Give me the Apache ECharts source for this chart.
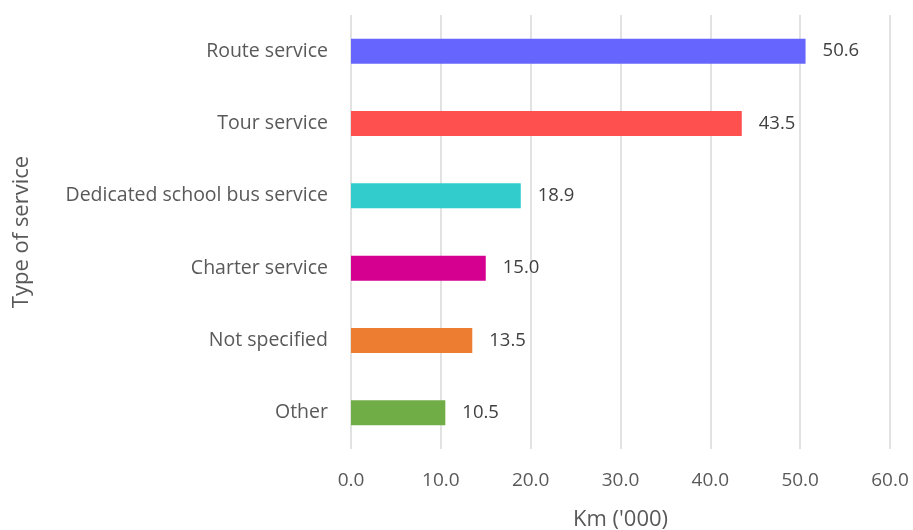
<!DOCTYPE html>
<html>
<head>
<meta charset="utf-8">
<script src="https://cdn.jsdelivr.net/npm/echarts@6/dist/echarts.min.js"></script>
<style>
  html, body { margin: 0; padding: 0; background: #fff; }
  #chart { width: 913px; height: 530px; }
</style>
</head>
<body>
<div id="chart"></div>
<script>
// categories bottom to top (category axis on y starts at bottom)
var categories = ['Other', 'Not specified', 'Charter service', 'Dedicated school bus service', 'Tour service', 'Route service'];
var values = [10.5, 13.5, 15.0, 18.9, 43.5, 50.6];
var barColors = ['#70AD47', '#ED7D31', '#D5008F', '#33CCCC', '#FF5050', '#6666FF'];

var textColor = '#595959';
var font = '"Open Sans", "Liberation Sans", sans-serif';

echarts.init(document.getElementById('chart')).setOption({
    animation: false,
    grid: {
        left: 351,
        right: 23,
        top: 15,
        bottom: 81,
        outerBoundsMode: 'none',
        containLabel: false
    },
    xAxis: {
        type: 'value',
        min: 0,
        max: 60,
        interval: 10,
        name: "Km ('000)",
        nameLocation: 'middle',
        nameGap: 60,
        nameTextStyle: { color: textColor, fontSize: 22, fontFamily: font },
        axisLine: { show: false },
        axisTick: { show: false },
        axisLabel: {
            color: textColor,
            fontSize: 19,
            fontFamily: font,
            margin: 22,
            formatter: function (v) { return v.toFixed(1); }
        },
        splitLine: { show: true, lineStyle: { color: '#D9D9D9', width: 1.5 } }
    },
    yAxis: {
        type: 'category',
        data: categories,
        name: 'Type of service',
        nameLocation: 'middle',
        nameGap: 318,
        nameRotate: 90,
        nameTextStyle: { color: textColor, fontSize: 22, fontFamily: font },
        axisLine: { show: false },
        axisTick: { show: false },
        axisLabel: { color: textColor, fontSize: 19.5, fontFamily: font, margin: 23 }
    },
    series: [{
        type: 'bar',
        data: values.map(function (v, i) {
            return { value: v, itemStyle: { color: barColors[i] } };
        }),
        barWidth: 25,
        label: {
            show: true,
            position: 'right',
            distance: 17,
            color: '#404040',
            fontSize: 18.5,
            fontFamily: font,
            formatter: function (p) { return p.value.toFixed(1); }
        }
    }]
});
</script>
</body>
</html>
